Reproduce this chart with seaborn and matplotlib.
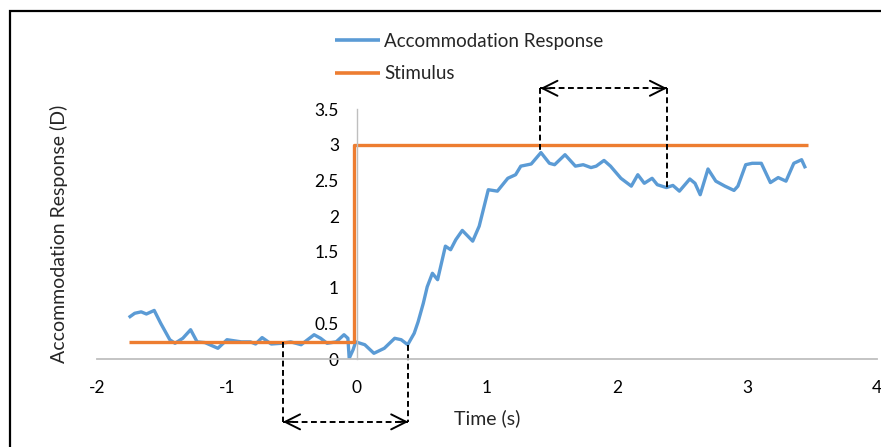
import numpy as np
import pandas as pd
import matplotlib
matplotlib.use("Agg")
import matplotlib.pyplot as plt
from matplotlib.patches import Rectangle
import seaborn as sns

# ---- data ----
resp_t = [-1.756, -1.71, -1.66, -1.62, -1.56, -1.51, -1.44, -1.40, -1.34, -1.28,
          -1.23, -1.17, -1.07, -1.00, -0.89, -0.82, -0.78, -0.73, -0.66, -0.58,
          -0.51, -0.43, -0.33, -0.28, -0.23, -0.16, -0.10, -0.07, -0.06, -0.03,
          -0.01, 0.06, 0.13, 0.21, 0.29, 0.34, 0.39, 0.44, 0.47, 0.51,
          0.54, 0.58, 0.62, 0.68, 0.72, 0.76, 0.81, 0.89, 0.94, 1.01,
          1.08, 1.16, 1.22, 1.26, 1.34, 1.415, 1.48, 1.52, 1.60, 1.68,
          1.74, 1.80, 1.84, 1.90, 1.95, 2.03, 2.11, 2.16, 2.21, 2.27,
          2.31, 2.38, 2.43, 2.48, 2.56, 2.60, 2.64, 2.70, 2.76, 2.83,
          2.90, 2.93, 2.99, 3.04, 3.11, 3.18, 3.24, 3.30, 3.36, 3.42, 3.45]
resp_v = [0.58, 0.64, 0.66, 0.63, 0.68, 0.50, 0.27, 0.22, 0.29, 0.41,
          0.24, 0.23, 0.15, 0.27, 0.24, 0.24, 0.21, 0.30, 0.21, 0.22,
          0.24, 0.20, 0.34, 0.29, 0.22, 0.24, 0.34, 0.29, 0.01, 0.13,
          0.24, 0.20, 0.08, 0.15, 0.29, 0.27, 0.20, 0.36, 0.52, 0.78,
          1.01, 1.20, 1.11, 1.58, 1.53, 1.67, 1.80, 1.65, 1.86, 2.37,
          2.35, 2.53, 2.58, 2.70, 2.73, 2.89, 2.74, 2.72, 2.86, 2.70,
          2.72, 2.68, 2.70, 2.78, 2.70, 2.53, 2.42, 2.58, 2.46, 2.53,
          2.44, 2.40, 2.43, 2.35, 2.52, 2.46, 2.30, 2.66, 2.49, 2.42,
          2.36, 2.42, 2.72, 2.74, 2.74, 2.47, 2.54, 2.49, 2.74, 2.79, 2.67]

stim_t = [-1.756, -0.02, -0.02, 3.47]
stim_v = [0.24, 0.24, 3.0, 3.0]

x_ticks = [-2, -1, 0, 1, 2, 3, 4]
y_ticks = [0, 0.5, 1, 1.5, 2, 2.5, 3, 3.5]
x_ticklabels = ["-2", "-1", "0", "1", "2", "3", "4"]
y_ticklabels = ["0", "0.5", "1", "1.5", "2", "2.5", "3", "3.5"]

# annotation brackets (lower: latency, upper: settling)
lat_x = [-0.57, 0.395]
lat_top = [0.24, 0.20]
lat_y = -0.88
set_x = [1.41, 2.385]
set_bot = [2.88, 2.40]
set_y = 3.79

BLUE = "#5B9BD5"
ORANGE = "#ED7D31"
AXIS_GREY = "#BFBFBF"
FONT = ["Lato", "DejaVu Sans"]

sns.set_theme(style="white")
plt.rcParams["font.family"] = FONT

df = pd.concat([
    pd.DataFrame({"t": resp_t, "v": resp_v, "series": "Accommodation Response"}),
    pd.DataFrame({"t": stim_t, "v": stim_v, "series": "Stimulus"}),
], ignore_index=True)

fig = plt.figure(figsize=(8.81, 4.47), dpi=100)
ax = fig.add_axes([97 / 881, 1 - 359 / 447, 780 / 881, 250 / 447])

sns.lineplot(data=df, x="t", y="v", hue="series", estimator=None, sort=False,
             palette={"Accommodation Response": BLUE, "Stimulus": ORANGE},
             linewidth=2.4, ax=ax, legend=True)
for ln in ax.get_lines():
    ln.set_solid_joinstyle("round")
    ln.set_solid_capstyle("butt")

ax.set_xlim(-2, 4)
ax.set_ylim(0, 3.5)
ax.set_xticks(x_ticks)
ax.set_xticklabels(x_ticklabels)
ax.set_yticks(y_ticks)
ax.set_yticklabels(y_ticklabels)

for s in ["top", "right"]:
    ax.spines[s].set_visible(False)
ax.spines["left"].set_position(("data", 0))
ax.spines["left"].set_color(AXIS_GREY)
ax.spines["left"].set_linewidth(1.0)
ax.spines["bottom"].set_color(AXIS_GREY)
ax.spines["bottom"].set_linewidth(1.3)
ax.tick_params(axis="both", length=0, labelsize=12.5, colors="black")
ax.tick_params(axis="y", pad=13)
ax.tick_params(axis="x", pad=15)
ax.patch.set_alpha(0)

ax.set_xlabel("Time (s)", fontsize=14, labelpad=10)
ax.set_ylabel("Accommodation Response (D)", fontsize=14)
ax.yaxis.set_label_coords((68 - 97) / 780, 0.5)

# legend at top
handles, labels = ax.get_legend_handles_labels()
leg = ax.legend(handles, labels, loc="upper left", frameon=False,
                bbox_to_anchor=(335 / 881, 1 - 33 / 447), bbox_transform=fig.transFigure,
                fontsize=13.5, handlelength=2.4, handletextpad=0.22, labelspacing=0.82,
                borderaxespad=0, borderpad=0)
for line in leg.get_lines():
    line.set_linewidth(2.6)

# dashed brackets with double-headed arrows
dash_kw = dict(color="black", linestyle=(0, (3, 1.8)), linewidth=1.4, clip_on=False)
for xv, yt in zip(lat_x, lat_top):
    ax.plot([xv, xv], [yt, lat_y], **dash_kw)
ax.plot(lat_x, [lat_y, lat_y], **dash_kw)
for xv, yb in zip(set_x, set_bot):
    ax.plot([xv, xv], [set_y, yb], **dash_kw)
ax.plot(set_x, [set_y, set_y], **dash_kw)

head_kw = dict(arrowstyle="->,head_length=0.9,head_width=0.45", color="black", lw=1.4,
               shrinkA=0, shrinkB=0)
for (xa, xb, yy) in [(lat_x[0], lat_x[1], lat_y), (set_x[0], set_x[1], set_y)]:
    ax.annotate("", xy=(xa, yy), xytext=(xa + 0.08, yy), arrowprops=head_kw,
                annotation_clip=False)
    ax.annotate("", xy=(xb, yy), xytext=(xb - 0.08, yy), arrowprops=head_kw,
                annotation_clip=False)

# outer chart frame (Excel chart-area border, cropped at right/bottom)
fig.add_artist(Rectangle((10 / 881, -0.2), 1.2, 1.2 - 10.5 / 447, transform=fig.transFigure,
                         fill=False, edgecolor="black", linewidth=1.6))

fig.savefig("out.png", dpi=100)
